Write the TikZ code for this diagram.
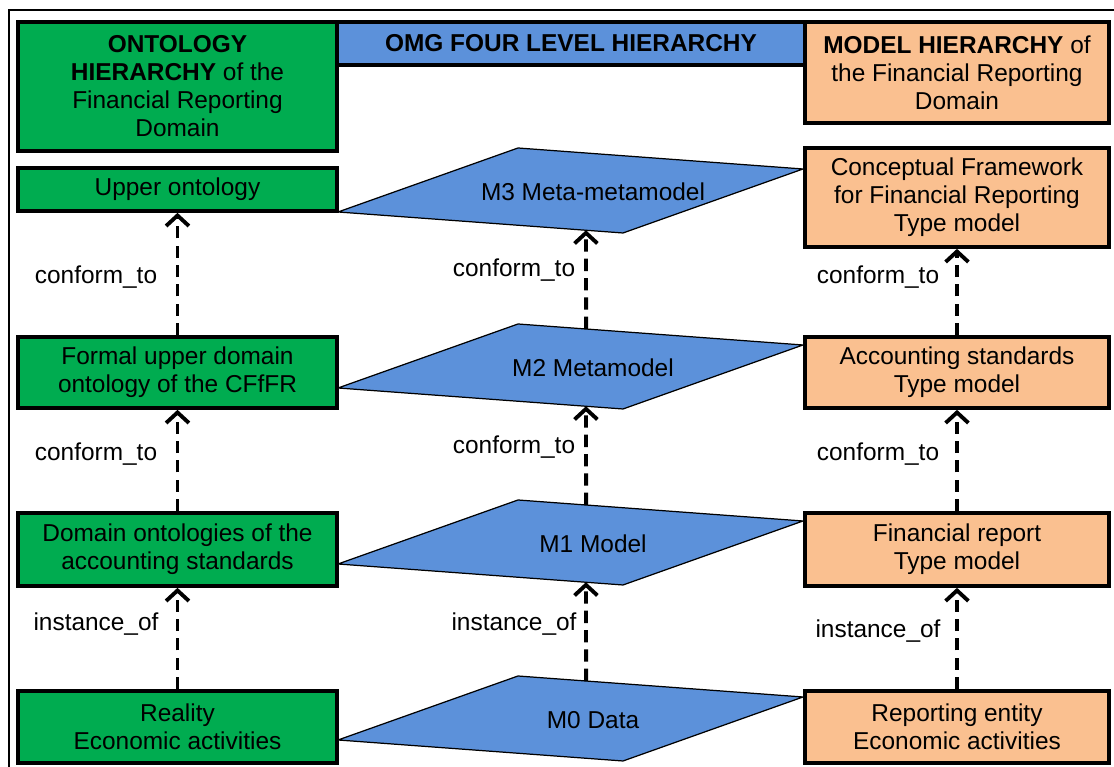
\documentclass[tikz,border=0pt]{standalone}
\usepackage{fontspec}
\setmainfont{Liberation Sans}
\usepackage{xcolor}
\usepackage{tikz}
\usetikzlibrary{arrows.meta,
                calc,
                positioning}

\definecolor{ontgreen}{RGB}{0,172,80}
\definecolor{omgblue}{RGB}{92,145,218}
\definecolor{modorange}{RGB}{250,192,144}

\begin{document}
\begin{tikzpicture}[
    txt/.style={font=\fontsize{13.9}{15.9}\selectfont, align=center},
    box/.style={txt, draw, line width=2.1pt, inner sep=0pt},
    ontbox/.style={box, fill=ontgreen, minimum width=6.38cm},
    modbox/.style={box, fill=modorange, minimum width=6.08cm},
    para/.style={draw, line width=0.7pt, fill=omgblue},
    conn/.style={line width=2.2pt, dash pattern=on 7pt off 4pt,
                 -{Straight Barb[length=6pt,width=13pt,line width=2.2pt]}},
    lbl/.style={txt, inner sep=0pt}
  ]
\useasboundingbox (0,0) rectangle (22.28,15.34);
\draw[line width=1.2pt] (0.18,0) -- (0.18,15.14) -- (22.28,15.14);

% column headers
\node[ontbox, minimum height=2.58cm] (onthead) at (3.55,13.61)
  {\textbf{ONTOLOGY}\\\textbf{HIERARCHY} of the\\Financial Reporting\\Domain};
\node[box, fill=omgblue, minimum width=9.36cm, minimum height=0.86cm] (omghead) at (11.42,14.47)
  {\textbf{OMG FOUR LEVEL HIERARCHY}};
\node[modbox, minimum height=2.02cm] (modhead) at (19.14,13.89)
  {\textbf{MODEL HIERARCHY} of\\the Financial Reporting\\Domain};

% ontology column
\node[ontbox, minimum height=0.86cm] (upper) at (3.55,11.55) {Upper ontology};
\node[ontbox, minimum height=1.42cm] (formal) at (3.55,7.89) {Formal upper domain\\ontology of the CFfFR};
\node[ontbox, minimum height=1.46cm] (domain) at (3.55,4.35) {Domain ontologies of the\\accounting standards};
\node[ontbox, minimum height=1.44cm] (reality) at (3.55,0.80) {Reality\\Economic activities};

% model column
\node[modbox, minimum height=1.98cm] (cf) at (19.14,11.39) {Conceptual Framework\\for Financial Reporting\\Type model};
\node[modbox, minimum height=1.42cm] (acc) at (19.14,7.89) {Accounting standards\\Type model};
\node[modbox, minimum height=1.46cm] (fin) at (19.14,4.35) {Financial report\\Type model};
\node[modbox, minimum height=1.44cm] (rep) at (19.14,0.80) {Reporting entity\\Economic activities};

% OMG levels
\foreach \n/\y/\t in {3/11.10/{M3 Meta-metamodel},2/7.58/{M2 Metamodel},1/4.06/{M1 Model},0/0.54/{M0 Data}}{
  \coordinate (m\n-l) at (6.76,\y);
  \draw[para] (m\n-l) -- ++(3.6,1.28) coordinate (m\n-t)
              -- ++(5.7,-0.42) coordinate (m\n-r)
              -- ++(-3.6,-1.28) coordinate (m\n-b) -- cycle;
  \node[lbl] (m\n) at ($(m\n-l)+(5.1,0.40)$) {\t};
}

% dependencies
\foreach \a/\b in {formal/upper,domain/formal,reality/domain}
  \draw[conn] (\a) -- (\b);
\foreach \a/\b in {acc/cf,fin/acc,rep/fin}
  \draw[conn] (\a) -- (\b);
\foreach \lo/\hi in {2/3,1/2,0/1}
  \draw[conn] ($(m\lo-t)!0.239!(m\lo-r)$) -- ($(m\hi-l)!0.87!(m\hi-b)$);

\foreach \i/\y/\t in {1/9.80/conform\_to,2/6.26/conform\_to,3/2.86/instance\_of}
  \node[lbl] (ontlbl\i) at (1.92,\y) {\t};
\foreach \i/\y/\t in {1/9.94/conform\_to,2/6.40/conform\_to,3/2.86/instance\_of}
  \node[lbl] (omglbl\i) at (10.28,\y) {\t};
\foreach \i/\y/\t in {1/9.80/conform\_to,2/6.26/conform\_to,3/2.72/instance\_of}
  \node[lbl] (modlbl\i) at (17.56,\y) {\t};
\end{tikzpicture}
\end{document}
